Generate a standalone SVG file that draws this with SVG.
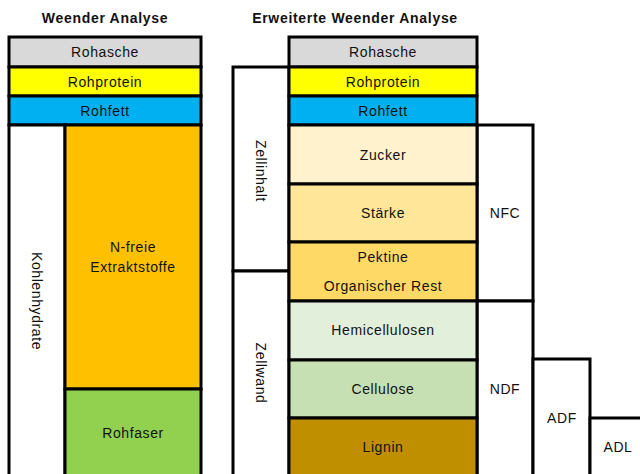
<svg xmlns="http://www.w3.org/2000/svg" width="640" height="474" viewBox="0 0 640 474">
<style>
.b{stroke:#000;stroke-width:3;}
.t{font-family:"Liberation Sans",Arial,sans-serif;font-size:14px;letter-spacing:0.6px;fill:#111;text-anchor:middle;dominant-baseline:central;}
.h{font-family:"Liberation Sans",Arial,sans-serif;font-size:14px;letter-spacing:0.7px;font-weight:bold;fill:#111;text-anchor:middle;dominant-baseline:central;}
</style>
<rect width="640" height="474" fill="#fff"/>
<text class="h" x="105" y="18">Weender Analyse</text>
<text class="h" x="355" y="18">Erweiterte Weender Analyse</text>

<g id="weender">
<g id="w-rohasche"><rect class="b" x="9" y="37" width="192" height="30" fill="#d9d9d9"/><text class="t" x="105" y="52">Rohasche</text></g>
<g id="w-rohprotein"><rect class="b" x="9" y="67" width="192" height="29" fill="#ffff00"/><text class="t" x="105" y="82">Rohprotein</text></g>
<g id="w-rohfett"><rect class="b" x="9" y="96" width="192" height="29" fill="#00b0f0"/><text class="t" x="105" y="111">Rohfett</text></g>
<g id="w-kohlenhydrate"><rect class="b" x="9" y="125" width="56" height="352" fill="#fff"/><text class="t" transform="translate(37,301) rotate(90)">Kohlenhydrate</text></g>
<g id="w-nfreie"><rect class="b" x="65" y="125" width="136" height="264" fill="#ffc000"/><text class="t" x="133" y="247">N-freie</text><text class="t" x="133" y="267">Extraktstoffe</text></g>
<g id="w-rohfaser"><rect class="b" x="65" y="389" width="136" height="88" fill="#92d050"/><text class="t" x="133" y="433">Rohfaser</text></g>
</g>

<g id="erweitert">
<g id="zellinhalt"><rect class="b" x="233" y="67" width="56" height="204" fill="#fff"/><text class="t" transform="translate(261,171) rotate(90)">Zellinhalt</text></g>
<g id="zellwand"><rect class="b" x="233" y="271" width="56" height="206" fill="#fff"/><text class="t" transform="translate(261,373) rotate(90)">Zellwand</text></g>
<g id="nfc"><rect class="b" x="477" y="125" width="56" height="176" fill="#fff"/><text class="t" x="505" y="213">NFC</text></g>
<g id="ndf"><rect class="b" x="477" y="301" width="56" height="176" fill="#fff"/><text class="t" x="505" y="389">NDF</text></g>
<g id="adf"><rect class="b" x="533" y="359" width="57" height="118" fill="#fff"/><text class="t" x="562" y="418">ADF</text></g>
<g id="adl"><rect class="b" x="590" y="418" width="55" height="59" fill="#fff"/><text class="t" x="618" y="447">ADL</text></g>
<g id="e-rohasche"><rect class="b" x="289" y="37" width="188" height="30" fill="#d9d9d9"/><text class="t" x="383" y="52">Rohasche</text></g>
<g id="e-rohprotein"><rect class="b" x="289" y="67" width="188" height="29" fill="#ffff00"/><text class="t" x="383" y="82">Rohprotein</text></g>
<g id="e-rohfett"><rect class="b" x="289" y="96" width="188" height="29" fill="#00b0f0"/><text class="t" x="383" y="111">Rohfett</text></g>
<g id="zucker"><rect class="b" x="289" y="125" width="188" height="59" fill="#fff2cc"/><text class="t" x="383" y="155">Zucker</text></g>
<g id="staerke"><rect class="b" x="289" y="184" width="188" height="58" fill="#ffe699"/><text class="t" x="383" y="213">Stärke</text></g>
<g id="pektine"><rect class="b" x="289" y="242" width="188" height="59" fill="#ffd966"/><text class="t" x="383" y="257">Pektine</text><text class="t" x="383" y="286">Organischer Rest</text></g>
<g id="hemicellulosen"><rect class="b" x="289" y="301" width="188" height="59" fill="#e2efda"/><text class="t" x="383" y="330">Hemicellulosen</text></g>
<g id="cellulose"><rect class="b" x="289" y="360" width="188" height="58" fill="#c6e0b4"/><text class="t" x="383" y="389">Cellulose</text></g>
<g id="lignin"><rect class="b" x="289" y="418" width="188" height="59" fill="#bf8f00"/><text class="t" x="383" y="447">Lignin</text></g>
</g>
<g id="connectors"></g>
</svg>
